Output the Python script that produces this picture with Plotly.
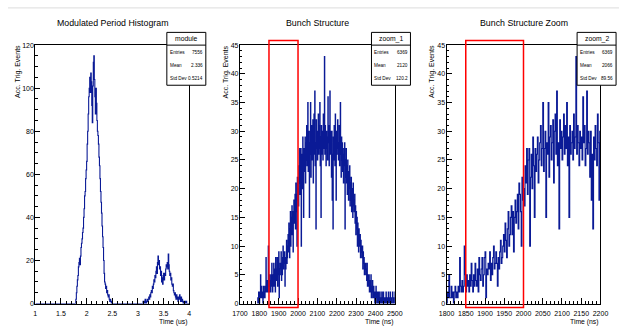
import numpy as np
import plotly.graph_objects as go

W, H = 627, 331

# ---------------- data ----------------
titles = ["Modulated Period Histogram", "Bunch Structure", "Bunch Structure Zoom"]
x_titles = ["Time (us)", "Time (ns)", "Time (ns)"]
y_title = "Acc. Trig. Events"
stat_names = ["module", "zoom_1", "zoom_2"]
stat_labels = ["Entries", "Mean", "Std Dev"]
stat_values = [["7556", "2.336", "0.5214"],
               ["6369", "2120", "120.2"],
               ["6369", "2066", "89.56"]]

# modulated period histogram (us), bin width 0.01
mod_lo, mod_hi, mod_bin = 1.0, 4.0, 0.01
peak1_start = 1.78
peak1_counts = [0, 2, 5, 8, 11, 13, 17, 19, 21, 18,
                22, 26, 28, 30, 33, 35, 40, 44, 50, 52,
                58, 62, 66, 74, 80, 88, 96, 100, 105, 98,
                107, 103, 92, 84, 101, 112, 115, 104, 96, 88,
                100, 93, 85, 80, 78, 74, 68, 64, 58, 52,
                47, 42, 36, 31, 26, 20, 14, 10, 9, 7,
                8, 5, 6, 4, 3, 4, 2, 1, 2, 1,
                0, 1, 0]
peak2_start = 3.10
peak2_counts = [1, 0, 1, 0, 2, 1, 0, 1, 2, 1,
                2, 3, 2, 4, 3, 5, 6, 5, 8, 7,
                9, 11, 10, 13, 12, 15, 17, 14, 19, 22,
                18, 20, 16, 17, 13, 15, 10, 12, 9, 13,
                14, 11, 14, 13, 16, 18, 17, 19, 16, 23,
                18, 15, 13, 14, 11, 12, 9, 8, 9, 6,
                5, 4, 5, 3, 2, 4, 3, 2, 1, 3,
                2, 4, 2, 1, 3, 1, 2, 1, 0, 1,
                1, 0, 1, 0, 1, 0]

# bunch structure (ns), bin width 2
bunch_start, bunch_bin = 1790, 2
bunch_counts = [
    0, 1, 0, 2, 1, 0, 2, 1, 5, 1,
    1, 3, 1, 2, 0, 2, 3, 1, 2, 1,
    3, 2, 8, 3, 2, 4, 2, 3, 10, 5,
    2, 5, 3, 4, 2, 5, 3, 7, 4, 2,
    5, 3, 7, 4, 3, 6, 2, 8, 5, 4,
    6, 8, 3, 5, 8, 9, 1, 6, 5, 7,
    6, 9, 4, 7, 5, 8, 10, 6, 7, 9,
    7, 3, 8, 6, 9, 11, 7, 8, 10, 12,
    9, 14, 11, 8, 13, 16, 10, 12, 15, 17,
    12, 16, 9, 15, 18, 14, 16, 19, 13, 21,
    19, 16, 10, 22, 18, 20, 17, 24, 21, 27,
    19, 25, 27, 10, 22, 26, 20, 29, 24, 15,
    27, 23, 26, 29, 21, 25, 28, 31, 24, 27,
    35, 23, 27, 30, 15, 28, 26, 35, 22, 29,
    31, 25, 28, 32, 21, 30, 33, 26, 37, 24,
    28, 13, 32, 27, 30, 25, 29, 33, 26, 31,
    27, 35, 24, 29, 15, 31, 26, 28, 30, 25,
    33, 27, 29, 43, 26, 31, 28, 24, 30, 27,
    29, 25, 36, 28, 31, 24, 27, 37, 26, 30,
    28, 22, 30, 18, 26, 13, 29, 25, 31, 27,
    24, 33, 28, 18, 30, 26, 29, 32, 27, 25,
    28, 31, 24, 27, 35, 26, 22, 29, 25, 28,
    23, 27, 21, 26, 24, 28, 13, 25, 22, 27,
    21, 24, 19, 25, 22, 18, 23, 20, 24, 17,
    21, 18, 22, 16, 20, 19, 15, 21, 17, 18,
    16, 19, 14, 17, 12, 16, 13, 15, 10, 14,
    12, 9, 13, 11, 10, 12, 8, 11, 9, 10,
    8, 10, 6, 9, 7, 8, 5, 7, 6, 7,
    5, 6, 4, 7, 3, 5, 4, 3, 5, 2,
    4, 2, 3, 5, 1, 3, 2, 4, 1, 2,
    3, 1, 2, 0, 2, 1, 3, 1, 0, 2,
    1, 0, 2, 1, 0, 1, 2, 0, 1, 0,
    1, 2, 0, 1, 0, 2, 1, 0, 1, 0,
    0, 1, 2, 0, 1, 0, 1, 0, 2, 1,
    0, 1, 0, 2, 1, 0, 1, 0, 1, 2,
    1, 0, 1, 0, 1, 2, 0, 1, 0, 1,
]

window_ns = [1850, 2000]

x_ranges = [[1, 4], [1700, 2500], [1800, 2200]]
y_ranges = [[0, 120], [0, 45], [0, 45]]
x_dticks = [0.5, 100, 50]
x_minor = [0.1, 20, 10]
y_dticks = [20, 5, 5]
y_minor = [5, 1, 1]

# ---------------- build histograms ----------------
n_mod = int(round((mod_hi - mod_lo) / mod_bin))
mod_counts = np.zeros(n_mod)
i1 = int(round((peak1_start - mod_lo) / mod_bin))
mod_counts[i1:i1 + len(peak1_counts)] = peak1_counts
i2 = int(round((peak2_start - mod_lo) / mod_bin))
mod_counts[i2:i2 + len(peak2_counts)] = peak2_counts
mod_x = mod_lo + mod_bin * (np.arange(n_mod) + 0.5)

bunch_x = bunch_start + bunch_bin * (np.arange(len(bunch_counts)) + 0.5)

# ---------------- layout (pixel geometry) ----------------
FONT = "Liberation Sans, Arial, Helvetica, sans-serif"
plot_px = [(28, 186), (238, 397), (450, 608)]
top_px, bot_px = 42, 306
stat_px = [(163, 203), (373, 413), (584, 624)]
ytitle_px = [9.5, 223.5, 434.5]


def px(x):
    return x / W


def py(y):
    return 1 - y / H


LINE = "#0a1a96"
fig = go.Figure()
series = [(mod_x, mod_counts), (bunch_x, bunch_counts), (bunch_x, bunch_counts)]
for k, (xs, ys) in enumerate(series):
    sfx = "" if k == 0 else str(k + 1)
    fig.add_trace(go.Scatter(x=xs, y=ys, mode="lines", line_shape="hvh",
                             line=dict(color=LINE, width=1.1),
                             xaxis="x" + sfx, yaxis="y" + sfx,
                             showlegend=False, hoverinfo="skip"))

layout = dict(width=W, height=H, margin=dict(l=0, r=0, t=0, b=0),
              paper_bgcolor="white", plot_bgcolor="white",
              font=dict(family=FONT, size=7, color="black"),
              showlegend=False)
shapes = []
annotations = []
for k in range(3):
    sfx = "" if k == 0 else str(k + 1)
    x0, x1 = plot_px[k]
    layout["xaxis" + sfx] = dict(
        domain=[px(x0), px(x1)], range=x_ranges[k], anchor="y" + sfx,
        showgrid=False, zeroline=False, showline=True, linecolor="black",
        linewidth=1, mirror=True, ticks="inside", ticklen=6, tickcolor="black",
        tick0=x_ranges[k][0], dtick=x_dticks[k], ticklabelstandoff=3,
        minor=dict(ticks="inside", ticklen=3, dtick=x_minor[k], tickcolor="black",
                   tick0=x_ranges[k][0]),
        tickfont=dict(size=7), fixedrange=True)
    layout["yaxis" + sfx] = dict(
        domain=[py(bot_px), py(top_px)], range=y_ranges[k], anchor="x" + sfx,
        showgrid=False, zeroline=False, showline=True, linecolor="black",
        linewidth=1, mirror=True, ticks="inside", ticklen=5, tickcolor="black",
        tick0=0, dtick=y_dticks[k], ticklabelstandoff=-1,
        minor=dict(ticks="inside", ticklen=2.5, dtick=y_minor[k], tickcolor="black"),
        tickfont=dict(size=7), fixedrange=True)

    # title
    annotations.append(dict(text=titles[k], x=px((x0 + x1) / 2), y=py(19),
                             xref="paper", yref="paper", showarrow=False,
                             xanchor="center", yanchor="middle",
                             font=dict(size=8.8)))
    # x title
    annotations.append(dict(text=x_titles[k], x=px(x1), y=py(325),
                             xref="paper", yref="paper", showarrow=False,
                             xanchor="right", yanchor="middle", font=dict(size=6.8)))
    # y title
    annotations.append(dict(text=y_title, x=px(ytitle_px[k]), y=py(40),
                             xref="paper", yref="paper", showarrow=False,
                             textangle=-90, xanchor="center", yanchor="top",
                             font=dict(size=7)))
    # stats box
    s0, s1 = stat_px[k]
    shapes.append(dict(type="rect", xref="paper", yref="paper",
                       x0=px(s0), x1=px(s1), y0=py(83), y1=py(29),
                       line=dict(color="black", width=1), fillcolor="white",
                       layer="above"))
    shapes.append(dict(type="line", xref="paper", yref="paper",
                       x0=px(s0), x1=px(s1), y0=py(42), y1=py(42),
                       line=dict(color="black", width=1), layer="above"))
    annotations.append(dict(text=stat_names[k], x=px((s0 + s1) / 2), y=py(35.5),
                             xref="paper", yref="paper", showarrow=False,
                             xanchor="center", yanchor="middle", font=dict(size=6.8)))
    for r, (lab, val) in enumerate(zip(stat_labels, stat_values[k])):
        yy = 49.5 + r * 13.2
        annotations.append(dict(text=lab, x=px(s0 + 0.8), y=py(yy), xref="paper",
                                 yref="paper", showarrow=False, xanchor="left",
                                 yanchor="middle", font=dict(size=4.7)))
        annotations.append(dict(text=val, x=px(s1 - 0.8), y=py(yy), xref="paper",
                                 yref="paper", showarrow=False, xanchor="right",
                                 yanchor="middle", font=dict(size=4.7)))

# red window rectangles on bunch panels
for k in (1, 2):
    sfx = str(k + 1)
    ylo, yhi = y_ranges[k]
    d0, d1 = py(bot_px), py(top_px)
    yb = d0 + (-0.7 - ylo) / (yhi - ylo) * (d1 - d0)
    yt = d0 + (45.8 - ylo) / (yhi - ylo) * (d1 - d0)
    shapes.append(dict(type="rect", xref="x" + sfx, yref="paper",
                       x0=window_ns[0], x1=window_ns[1], y0=yb, y1=yt,
                       line=dict(color="#ff0000", width=1.5), fillcolor="rgba(0,0,0,0)",
                       layer="above"))

# faint canvas border line at top
shapes.append(dict(type="line", xref="paper", yref="paper", x0=0, x1=1,
                   y0=py(4), y1=py(4), line=dict(color="#dcdcdc", width=1)))

layout["shapes"] = shapes
layout["annotations"] = annotations
fig.update_layout(**layout)
fig.write_html("out.html")
